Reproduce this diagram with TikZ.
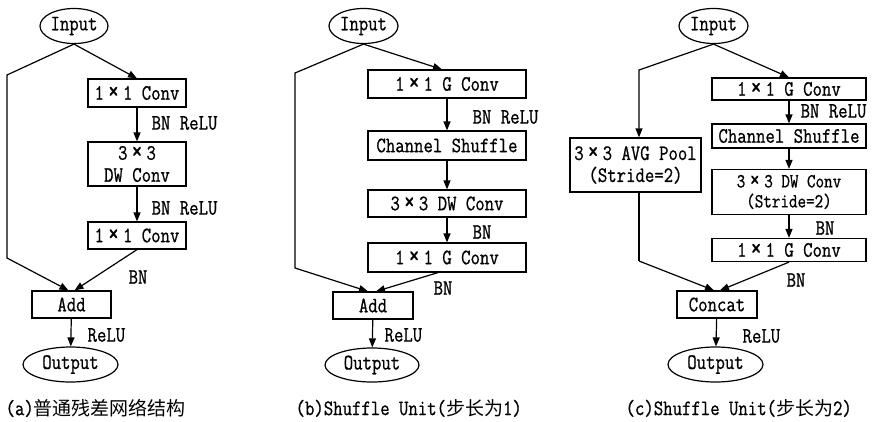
\documentclass[tikz,border=0pt]{standalone}
\usepackage{fontspec}
\usepackage{graphicx}
\setmonofont[FakeStretch=0.83,FakeBold=0.8]{Latin Modern Mono}
\newfontfamily\cjk{Noto Sans CJK SC}
\usetikzlibrary{shapes.geometric,arrows.meta}
% full-width multiplication sign
\newcommand\tms{\makebox[19pt]{\scalebox{1.25}{×}}}
\newcommand\hz[1]{{\cjk\fontsize{19}{21}\selectfont #1}}
\tikzset{
  txt/.style={font=\ttfamily\fontsize{22}{22}\selectfont},
  blk/.style={draw,txt,rectangle,inner sep=0pt,align=center},
  oval/.style={draw,txt,ellipse,inner sep=0pt},
  lbl/.style={txt,anchor=west,inner sep=0pt},
  captext/.style={txt,anchor=west,inner sep=0pt},
  link/.style={line width=1.2pt},
  arr/.style={link,-{Triangle[length=9pt,width=7pt]}},
}
\begin{document}
\begin{tikzpicture}[x=1pt,y=-1pt,line width=1.2pt]
\useasboundingbox (0,0) rectangle (881,421);

% ---------- (a) plain residual block ----------
\node[oval,minimum width=68pt,minimum height=35pt] (inA) at (74,26) {Input};
\node[blk,minimum width=98pt,minimum height=28pt] (a1) at (137,93) {1\tms1 Conv};
\node[blk,minimum width=98pt,minimum height=44pt] (a2) at (137,164) {3\tms3\\DW Conv};
\node[blk,minimum width=98pt,minimum height=27pt] (a3) at (137,235.5) {1\tms1 Conv};
\node[blk,minimum width=79pt,minimum height=27pt] (addA) at (71.5,304.5) {Add};
\node[oval,minimum width=95pt,minimum height=35pt] (outA) at (70.5,364.5) {Output};
\coordinate (aL1) at (7,75);
\coordinate (aL2) at (7,258);
\draw[arr] (inA.south) -- (aL1) -- (aL2) -- ([xshift=-3pt]addA.north);
\draw[arr] (inA.south) -- (a1.north);
\draw[arr] (a1) -- (a2);
\draw[arr] (a2) -- (a3);
\draw[arr] (a3.south) -- ([xshift=3pt]addA.north);
\draw[arr] (addA) -- (outA);
\node[lbl] (la1) at (151,123) {BN ReLU};
\node[lbl] (la2) at (151,208) {BN ReLU};
\node[lbl] (la3) at (128,277) {BN};
\node[lbl] (la4) at (87,335) {ReLU};
\node[captext] (capA) at (5,408) {(a)\hz{普通残差网络结构}};

% ---------- (b) shuffle unit, stride 1 ----------
\node[oval,minimum width=69pt,minimum height=35pt] (inB) at (363.5,26) {Input};
\node[blk,minimum width=158pt,minimum height=28pt] (b1) at (447,84) {1\tms1 G Conv};
\node[blk,minimum width=158pt,minimum height=29pt] (b2) at (447,145.5) {Channel Shuffle};
\node[blk,minimum width=158pt,minimum height=27pt] (b3) at (447,203.5) {3\tms3 DW Conv};
\node[blk,minimum width=158pt,minimum height=29pt] (b4) at (447,257.5) {1\tms1 G Conv};
\node[blk,minimum width=80pt,minimum height=27pt] (addB) at (373,305.5) {Add};
\node[oval,minimum width=94pt,minimum height=34pt] (outB) at (372,365) {Output};
\coordinate (bL1) at (295,73);
\coordinate (bL2) at (295,268);
\draw[arr] (inB.south) -- (bL1) -- (bL2) -- ([xshift=-5pt]addB.north);
\draw[arr] (inB.south) -- ([xshift=-5pt]b1.north);
\draw[arr] (b1) -- (b2);
\draw[arr] (b2) -- (b3);
\draw[arr] (b3) -- (b4);
\draw[arr] ([xshift=-9pt]b4.south) -- ([xshift=3pt]addB.north);
\draw[arr] (addB) -- (outB);
\node[lbl] (lb1) at (472,117) {BN ReLU};
\node[lbl] (lb2) at (472,232) {BN};
\node[lbl] (lb3) at (433,288) {BN};
\node[lbl] (lb4) at (384,335) {ReLU};
\node[captext] (capB) at (295,408) {(b)Shuffle Unit(\hz{步长为}1)};

% ---------- (c) shuffle unit, stride 2 ----------
\node[oval,minimum width=69pt,minimum height=35pt] (inC) at (713.5,26) {Input};
\node[blk,minimum width=154pt,minimum height=22pt] (c1) at (789,89) {1\tms1 G Conv};
\node[blk,minimum width=154pt,minimum height=24pt] (c2) at (789,136) {Channel Shuffle};
\node[blk,minimum width=154pt,minimum height=45pt,
      font=\ttfamily\fontsize{20}{20}\selectfont] (c3) at (789,192) {3\tms3 DW Conv\\(Stride=2)};
\node[blk,minimum width=154pt,minimum height=23pt] (c4) at (789,250) {1\tms1 G Conv};
\node[blk,minimum width=131pt,minimum height=54pt] (pool) at (635.5,165) {3\tms3 AVG Pool\\(Stride=2)};
\node[blk,minimum width=80pt,minimum height=27pt] (cat) at (717,304.5) {Concat};
\node[oval,minimum width=95pt,minimum height=35pt] (outC) at (715.5,364.5) {Output};
\coordinate (cL1) at (639,70);
\coordinate (cL2) at (639,261);
\draw[arr] (inC.south) -- (cL1) -- ([xshift=3.5pt]pool.north);
\draw[link] ([xshift=3.5pt]pool.south) -- (cL2);
\draw[arr] (cL2) -- ([xshift=-3pt]cat.north);
\draw[arr] (inC.south) -- (c1.north);
\draw[arr] (c1) -- (c2);
\draw[arr] (c2) -- (c3);
\draw[arr] (c3) -- (c4);
\draw[arr] (c4.south) -- ([xshift=3pt]cat.north);
\draw[arr] (cat) -- (outC);
\node[lbl] (lc1) at (800,111) {BN ReLU};
\node[lbl] (lc2) at (815,228) {BN};
\node[lbl] (lc3) at (786,280) {BN};
\node[lbl] (lc4) at (742,336) {ReLU};
\node[captext] (capC) at (625,408) {(c)Shuffle Unit(\hz{步长为}2)};
\end{tikzpicture}
\end{document}
